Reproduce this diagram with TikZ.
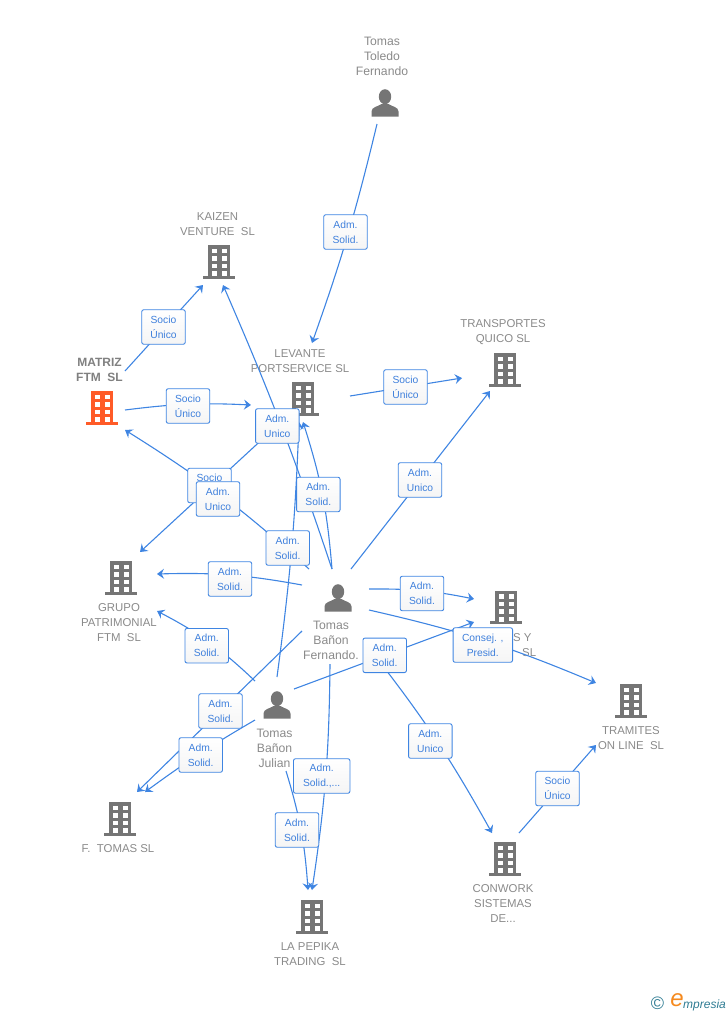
\documentclass[tikz,border=0pt]{standalone}
\usepackage{fontspec}
\setmainfont{Liberation Sans}
\usetikzlibrary{arrows.meta}
\definecolor{linkblue}{HTML}{3F85E2}
\definecolor{textblue}{HTML}{3F80DC}
\definecolor{icongray}{HTML}{757575}
\definecolor{namegray}{HTML}{8A8A8A}
\definecolor{mainorange}{HTML}{FF5B28}
\definecolor{logoteal}{HTML}{2F7C93}
\definecolor{logoorange}{HTML}{F58A1F}
\begin{document}
\begin{tikzpicture}[
    x=1pt, y=-1pt,
    zone/.style={inner sep=0pt, outer sep=0pt},
    link/.style={-{Stealth[length=7pt,width=10pt,inset=2.5pt]}, linkblue, line width=1.1pt},
    firmname/.style={text=namegray, align=center, inner sep=0pt, font=\fontsize{11.4}{15}\selectfont},
    personname/.style={firmname, font=\fontsize{12.2}{15}\selectfont},
    badge/.style={
        draw=linkblue, line width=0.9pt, rounded corners=2pt,
        top color=white, bottom color=black!4,
        text=textblue, align=center, inner sep=0pt,
        minimum width=43.5pt, minimum height=34.5pt,
        font=\fontsize{10.3}{15}\selectfont
    },
    building/.pic={
        \fill[pic actions] (-11.3,-16.8) rectangle (11.3,14);
        \fill[pic actions] (-15.8,13.8) rectangle (15.8,16.8);
        \foreach \ypos in {-13.4,-5.9,1.6}
            \foreach \xpos in {-7.3,2.7}
                \fill[white] (\xpos,\ypos) rectangle ++(5,4.4);
        \fill[white] (2.7,9.1) rectangle ++(5,4.4);
        \fill[white] (-7.3,9.1) rectangle (-2.3,14);
    },
    person/.pic={
        \fill[pic actions] (0,-6.3) ellipse (6.2 and 7.5);
        \fill[pic actions] (-13.5,13.5) -- (-13.5,8.5) .. controls (-13.5,4) and (-7,3.5) .. (-3.5,1)
            -- (3.5,1) .. controls (7,3.5) and (13.5,4) .. (13.5,8.5) -- (13.5,13.5) -- cycle;
    }
]
\useasboundingbox (0,0) rectangle (728,1015);

% zones round icon and name
\node[zone, minimum width=70, minimum height=88] (tol) at (385,80) {};
\node[zone, minimum width=87, minimum height=78] (kai) at (218.5,246) {};
\node[zone, minimum width=50, minimum height=77] (mat) at (100,391.5) {};
\node[zone, minimum width=99, minimum height=79] (lev) at (300.5,382.5) {};
\node[zone, minimum width=86, minimum height=76] (tra) at (505,353) {};
\node[zone, minimum width=72, minimum height=93] (gru) at (121,598.5) {};
\node[zone, minimum width=67, minimum height=95] (fer) at (335.5,616.5) {};
\node[zone, minimum width=64, minimum height=75] (pro) at (506,622) {};
\node[zone, minimum width=70, minimum height=75] (tro) at (631,717) {};
\node[zone, minimum width=39, minimum height=94] (jul) at (274.5,724) {};
\node[zone, minimum width=90, minimum height=68] (fto) at (120,826) {};
\node[zone, minimum width=80, minimum height=80] (pep) at (310,930) {};
\node[zone, minimum width=70, minimum height=95] (con) at (505,880.5) {};

% icons
\pic[fill=icongray] at (385,103) {person};
\pic[fill=icongray] at (338,598) {person};
\pic[fill=icongray] at (277,705) {person};
\pic[fill=icongray] at (219,262) {building};
\pic[fill=mainorange] at (102,408) {building};
\pic[fill=icongray] at (303,399) {building};
\pic[fill=icongray] at (505,370) {building};
\pic[fill=icongray] at (121,578) {building};
\pic[fill=icongray] at (506,607.5) {building};
\pic[fill=icongray] at (631,701) {building};
\pic[fill=icongray] at (120,819) {building};
\pic[fill=icongray] at (312,917) {building};
\pic[fill=icongray] at (505,859) {building};

% names
\node[personname] (toltext) at (382,56.5) {Tomas\\Toledo\\Fernando};
\node[firmname] (kaitext) at (217.5,224) {KAIZEN\\VENTURE\ \ SL};
\node[firmname, font=\fontsize{12}{15}\selectfont\bfseries, text=black!50] (mattext) at (99.5,370) {MATRIZ\\FTM\ \ SL};
\node[firmname] (levtext) at (300,361) {LEVANTE\\PORTSERVICE SL};
\node[firmname] (tratext) at (503,332) {TRANSPORTES\\QUICO SL};
\node[firmname] (grutext) at (119,622.5) {GRUPO\\PATRIMONIAL\\FTM\ \ SL};
\node[personname] (fertext) at (331,640.5) {Tomas\\Bañon\\Fernando.};
\node[firmname, align=left, anchor=west] (protext) at (513,645) {S Y\\\hspace{9pt}SL};
\node[firmname] (trotext) at (631,738) {TRAMITES\\ON LINE\ \ SL};
\node[personname] (jultext) at (274.5,748.5) {Tomas\\Bañon\\Julian};
\node[firmname] (ftotext) at (118,848.5) {F.\ \ TOMAS SL};
\node[firmname] (peptext) at (310,954) {LA PEPIKA\\TRADING\ \ SL};
\node[firmname] (context) at (503,903.5) {CONWORK\\SISTEMAS\\DE...};

% connectors
\draw[link] (tol.south -| 377,0) to[bend left=3] (lev.north -| 312,0);
\draw[link] (mat.east |- 0,371) -- (kai.south -| 203,0);
\draw[link] (mat.east |- 0,410) to[bend left=5] (lev.west |- 0,405);
\draw[link] (lev.east |- 0,396) -- (tra.west |- 0,378);
\draw[link] (fer.north -| 351,0) -- (tra.south -| 490,0);
\draw[link] (fer.north -| 332,0) to[bend right=2.5] (kai.south -| 223,0);
\draw[link] (fer.north -| 332,0) to[bend right=6.5] (lev.south -| 303,0);
\draw[link] (lev.south -| 281,0) -- (gru.north -| 140,0);
\draw[link] (fer.north -| 309,0) to[bend right=5] (mat.east |- 0,430);
\draw[link] (fer.west |- 0,585) to[bend right=6] (gru.east |- 0,574);
\draw[link] (jul.west |- 0,681) to[bend right=8] (gru.east |- 0,611);
\draw[link] (fer.west |- 0,631) -- (fto.north -| 137,0);
\draw[link] (jul.west |- 0,720) to[bend right=3] (fto.north -| 145,0);
\draw[link] (fer.south -| 330,0) to[bend left=4] (pep.north -| 312,0);
\draw[link] (jul.south -| 286,0) to[bend left=6.5] (pep.north -| 308,0);
\draw[link] (jul.east |- 0,689) -- (pro.west |- 0,622);
\draw[link] (fer.east |- 0,589) to[bend left=6] (pro.west |- 0,599);
\draw[link] (fer.east |- 0,610) to[bend left=5] (tro.west |- 0,683);
\draw[link] (fer.east |- 0,648) to[bend left=4.5] (con.north -| 492,0);
\draw[link] (con.north -| 519,0) -- (tro.west |- 0,745);
\draw[link] (jul.north -| 277,0) to[bend right=2.7] (lev.south -| 299,0);

% badges
\node[badge] (tolsolid) at (345.5,232) {Adm.\\Solid.};
\node[badge] (matkai) at (163.5,327) {Socio\\Único};
\node[badge] (matlev) at (188,406) {Socio\\Único};
\node[badge] (levtra) at (405.5,387) {Socio\\Único};
\node[badge] (fertra) at (420,480) {Adm.\\Unico};
\node[badge] (ferkai) at (277.3,426) {Adm.\\Unico};
\node[badge] (ferlev) at (318.3,494.5) {Adm.\\Solid.};
\node[badge] (levgru) at (209.5,485.5) {Socio\\Único};
\node[badge] (fermat) at (218,499) {Adm.\\Unico};
\node[badge] (jullev) at (287.7,548) {Adm.\\Solid.};
\node[badge] (fergru) at (230,579) {Adm.\\Solid.};
\node[badge] (julgru) at (206.7,645.7) {Adm.\\Solid.};
\node[badge] (ferfto) at (220.5,711) {Adm.\\Solid.};
\node[badge] (julfto) at (200.7,755) {Adm.\\Solid.};
\node[badge, minimum width=56.5pt] (ferpep) at (321.7,776) {Adm.\\Solid.,...};
\node[badge] (julpep) at (297,830) {Adm.\\Solid.};
\node[badge] (julpro) at (384.7,655.3) {Adm.\\Solid.};
\node[badge] (ferpro) at (422,593.5) {Adm.\\Solid.};
\node[badge, minimum width=59.5pt] (fertro) at (482.8,645) {Consej. ,\\Presid.};
\node[badge] (fercon) at (430.3,741) {Adm.\\Unico};
\node[badge] (contro) at (557.5,788.5) {Socio\\Único};

% logo
\node[inner sep=0pt, text=logoteal, font=\fontsize{18}{18}\selectfont] (logoc) at (657.5,1003.5) {©};
\node[inner sep=0pt, text=logoorange, font=\fontsize{24}{24}\selectfont\rmfamily\itshape] (logoe) at (677,1000) {e};
\node[inner sep=0pt, anchor=west, text=logoteal, font=\fontsize{12}{15}\selectfont\rmfamily\itshape] (logot) at (683,1005) {mpresia};
\end{tikzpicture}
\end{document}
